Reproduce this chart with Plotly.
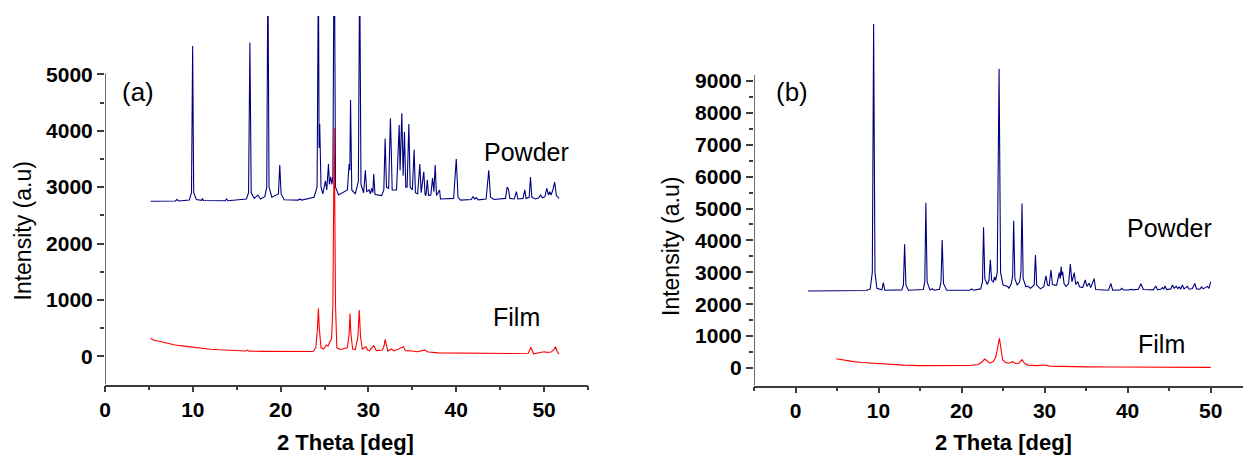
import plotly.graph_objects as go

# ---------------- data ----------------
# panel (a) powder pattern vertices [2theta, intensity]
powder_a = [
    [5.2, 2750], [8.0, 2755], [8.2, 2780], [8.4, 2755],
    [9.6, 2770], [9.85, 2900], [9.98, 5500], [10.1, 2900], [10.4, 2780],
    [11.0, 2765], [11.1, 2800], [11.2, 2762],
    [13.7, 2758], [13.85, 2790], [14.0, 2758],
    [16.1, 2790], [16.35, 2900], [16.5, 5560], [16.65, 2900], [17.0, 2800],
    [17.4, 2860], [17.7, 2790],
    [18.2, 2830], [18.42, 3000], [18.55, 7000], [18.68, 3000], [19.0, 2820],
    [19.75, 2880], [19.9, 3390], [20.05, 2880], [20.4, 2775],
    [22.0, 2770], [22.2, 2790], [22.4, 2770],
    [23.8, 2820], [24.15, 3000], [24.3, 7000], [24.38, 3700], [24.45, 4120],
    [24.6, 3000], [24.8, 2880], [25.1, 3110], [25.25, 2950], [25.45, 3410],
    [25.55, 3050], [25.7, 3180], [25.85, 3050], [25.95, 3200], [26.1, 8000],
    [26.25, 3000], [26.6, 2860],
    [27.6, 2950], [27.8, 3410], [27.88, 3300], [27.96, 4544], [28.1, 2950],
    [28.5, 2880], [28.85, 3100], [29.0, 7000], [29.15, 3050], [29.45, 2900],
    [29.65, 3300], [29.8, 2920], [30.1, 2950], [30.2, 2880], [30.4, 2980],
    [30.5, 2900], [30.6, 3230], [30.75, 2870], [31.5, 2850], [31.75, 2950],
    [31.9, 3860], [32.05, 3000], [32.3, 2980], [32.5, 4220], [32.6, 3650],
    [32.7, 2950], [33.2, 2950], [33.5, 4100], [33.6, 3300], [33.8, 4310],
    [33.95, 3200], [34.1, 3980], [34.25, 3000], [34.4, 3000], [34.6, 4120],
    [34.75, 3000], [35.0, 2950], [35.2, 3660], [35.35, 2900], [35.6, 2880],
    [35.85, 3410], [36.0, 2900], [36.3, 3270], [36.45, 2870], [36.55, 2850],
    [36.7, 3130], [36.85, 2850], [37.1, 2860], [37.3, 3160], [37.45, 2920],
    [37.6, 3390], [37.75, 2850], [38.1, 2950], [38.2, 2790],
    [39.7, 2800], [40.0, 3500], [40.2, 2820], [40.5, 2770],
    [41.7, 2780], [41.9, 2830], [42.1, 2790], [42.3, 2810], [42.5, 2775],
    [43.4, 2790], [43.7, 3300], [43.9, 2820], [44.3, 2780],
    [45.6, 2800], [45.8, 3000], [45.95, 2960], [46.1, 2800], [46.6, 2790],
    [46.85, 2920], [47.0, 2790], [47.6, 2800], [47.8, 2950], [47.95, 2800],
    [48.3, 2820], [48.45, 3180], [48.6, 2820], [49.0, 2790], [49.4, 2810],
    [49.6, 2860], [49.8, 2810], [50.1, 2830], [50.3, 2980], [50.5, 2860],
    [50.65, 2920], [50.8, 2860], [51.0, 2950], [51.2, 3090], [51.4, 2850],
    [51.7, 2800],
]

# panel (a) film pattern vertices
film_a = [
    [5.2, 320], [5.5, 290], [6.0, 270], [7.0, 230], [8.0, 200], [9.0, 180],
    [10.0, 160], [11.0, 140], [12.0, 125], [13.0, 115], [14.6, 100],
    [16.0, 95], [16.2, 110], [16.4, 92], [18.0, 88], [20.0, 85], [22.0, 83],
    [23.7, 85], [24.0, 150], [24.2, 500], [24.3, 850], [24.4, 500],
    [24.6, 150], [24.9, 130], [25.2, 200], [25.4, 180], [25.6, 260],
    [25.8, 300], [25.95, 900], [26.1, 4050], [26.25, 900], [26.4, 150],
    [26.8, 120], [27.6, 150], [27.8, 400], [27.9, 760], [28.0, 400],
    [28.2, 130], [28.5, 120], [28.8, 350], [28.95, 820], [29.1, 350],
    [29.3, 130], [29.7, 170], [29.9, 110], [30.1, 95], [30.6, 190],
    [30.9, 100], [31.6, 110], [31.8, 200], [31.9, 300], [32.05, 160],
    [32.2, 90], [32.6, 130], [32.9, 95], [34.0, 170], [34.2, 100],
    [35.0, 95], [35.5, 80], [36.4, 110], [36.8, 75], [38.0, 60],
    [40.0, 55], [42.0, 55], [44.0, 50], [46.0, 50], [48.2, 55],
    [48.5, 160], [48.8, 45], [49.5, 60], [50.0, 80], [50.3, 70],
    [50.8, 75], [51.1, 120], [51.3, 170], [51.5, 80], [51.7, 40],
]

# panel (b) powder pattern vertices
powder_b = [
    [1.5, 2415], [5.0, 2415], [8.5, 2430], [9.0, 2480], [9.25, 3000],
    [9.41, 10790], [9.57, 3000], [9.8, 2500], [10.4, 2450], [10.58, 2675],
    [10.75, 2440],
    [12.8, 2450], [13.0, 2600], [13.14, 3880], [13.3, 2600], [13.6, 2440],
    [15.4, 2460], [15.57, 2700], [15.7, 5180], [15.85, 2700], [16.2, 2450],
    [16.5, 2480], [16.7, 2440],
    [17.35, 2470], [17.52, 2700], [17.67, 4010], [17.82, 2650], [18.2, 2440],
    [21.0, 2440], [21.2, 2480], [21.4, 2440],
    [22.3, 2480], [22.52, 2700], [22.65, 4410], [22.8, 2800], [23.1, 2620],
    [23.3, 2750], [23.47, 3390], [23.62, 2750], [23.85, 2700], [23.97, 2860],
    [24.1, 2750], [24.3, 3000], [24.52, 9380], [24.7, 3000], [25.0, 2600],
    [25.55, 2560], [25.7, 2500], [26.0, 2650], [26.15, 2900], [26.28, 4620],
    [26.42, 2800], [26.7, 2600], [27.0, 2700], [27.15, 3000], [27.28, 5160],
    [27.42, 2800], [27.75, 2550], [27.96, 2570], [28.3, 2500], [28.75, 2600],
    [28.9, 3540], [29.05, 2600], [29.5, 2480], [29.9, 2550], [30.17, 2890],
    [30.35, 2600], [30.55, 2580], [30.77, 3070], [30.95, 2620], [31.17, 2600],
    [31.45, 2600], [31.77, 2990], [31.88, 2800], [32.0, 3180], [32.08, 2900],
    [32.17, 3020], [32.35, 2640], [32.6, 2560], [32.9, 2650], [33.1, 3260],
    [33.3, 2700], [33.57, 2990], [33.75, 2620], [34.0, 2710], [34.2, 2550],
    [34.6, 2520], [34.9, 2760], [35.1, 2560], [35.37, 2660], [35.55, 2520],
    [35.97, 2800], [36.15, 2460],
    [37.7, 2440], [37.98, 2650], [38.2, 2440],
    [39.1, 2450], [39.3, 2500], [39.5, 2445],
    [40.2, 2450], [40.4, 2470], [40.6, 2450],
    [41.3, 2470], [41.6, 2640], [41.75, 2570], [41.9, 2460],
    [43.1, 2450], [43.4, 2570], [43.6, 2460], [44.0, 2470], [44.2, 2520],
    [44.35, 2470], [44.5, 2570], [44.7, 2460],
    [45.2, 2480], [45.4, 2600], [45.6, 2500], [45.85, 2560], [46.05, 2490],
    [46.2, 2540], [46.4, 2480], [46.6, 2600], [46.8, 2480], [47.2, 2560],
    [47.4, 2470], [47.8, 2490], [48.1, 2650], [48.3, 2480], [48.7, 2470],
    [48.9, 2540], [49.1, 2480], [49.4, 2520], [49.6, 2560], [49.8, 2500],
    [50.0, 2700],
]

# panel (b) film pattern vertices
film_b = [
    [4.9, 290], [5.3, 270], [6.0, 240], [7.0, 200], [8.0, 170], [9.0, 150],
    [10.0, 130], [11.0, 115], [12.0, 100], [13.0, 90], [15.0, 75],
    [17.0, 75], [19.0, 72], [21.0, 80], [22.0, 110], [22.4, 180],
    [22.8, 280], [23.1, 210], [23.4, 150], [23.8, 200], [24.1, 320],
    [24.35, 650], [24.56, 940], [24.75, 600], [24.95, 250], [25.3, 170],
    [25.7, 150], [26.15, 200], [26.5, 140], [26.9, 150], [27.28, 260],
    [27.6, 140], [28.0, 90], [28.97, 75], [29.5, 90], [30.1, 95],
    [30.6, 60], [32.0, 45], [33.0, 50], [35.0, 35], [38.0, 30],
    [42.0, 25], [46.0, 20], [50.0, 20],
]

# tick labels
x_ticks = [0, 10, 20, 30, 40, 50]
x_minor_a = [5, 15, 25, 35, 45, 55]
x_minor_b = [-5, 5, 15, 25, 35, 45]
y_ticks_a = [0, 1000, 2000, 3000, 4000, 5000]
y_minor_a = [500, 1500, 2500, 3500, 4500]
y_ticks_b = [0, 1000, 2000, 3000, 4000, 5000, 6000, 7000, 8000, 9000]
y_minor_b = [500, 1500, 2500, 3500, 4500, 5500, 6500, 7500, 8500]

# ---------------- figure ----------------
W, H = 1243, 458
NAVY = "#00007f"
RED = "#ff0000"
AX = "#3c3c3c"
FAM = "Liberation Sans, Arial"


def px_x(p):
    return p / W


def px_y(p):
    return (H - p) / H


fig = go.Figure()
for pts, color, xa, ya in [
    (powder_a, NAVY, "x", "y"),
    (film_a, RED, "x", "y"),
    (powder_b, NAVY, "x2", "y2"),
    (film_b, RED, "x2", "y2"),
]:
    fig.add_trace(go.Scatter(
        x=[p[0] for p in pts], y=[p[1] for p in pts], mode="lines",
        line=dict(color=color, width=1.1), xaxis=xa, yaxis=ya,
        showlegend=False, hoverinfo="skip",
    ))

tickfont = dict(family=FAM, size=21, color="black")


def xaxis_cfg(domain, rng, minor_vals, anchor):
    return dict(
        domain=domain, range=rng, anchor=anchor, automargin=False,
        showline=True, linecolor=AX, linewidth=1.5,
        ticks="outside", ticklen=6, tickwidth=1.5, tickcolor=AX,
        tickmode="array", tickvals=x_ticks,
        ticktext=["<b>%d</b>" % v for v in x_ticks],
        minor=dict(tickmode="array", tickvals=minor_vals, ticks="outside",
                   ticklen=4, tickwidth=1.5, tickcolor=AX, showgrid=False),
        showgrid=False, zeroline=False, tickfont=tickfont,
    )


def yaxis_cfg(domain, rng, ticks, minor_vals, anchor):
    return dict(
        domain=domain, range=rng, anchor=anchor, automargin=False,
        showline=False,
        ticks="outside", ticklen=7, tickwidth=1.5, tickcolor=AX,
        tickmode="array", tickvals=ticks,
        ticktext=["<b>%d</b>" % v for v in ticks],
        minor=dict(tickmode="array", tickvals=minor_vals, ticks="outside",
                   ticklen=4, tickwidth=1.5, tickcolor=AX, showgrid=False),
        showgrid=False, zeroline=False, tickfont=tickfont,
    )


fig.update_layout(
    width=W, height=H,
    margin=dict(l=0, r=0, t=0, b=0),
    paper_bgcolor="white", plot_bgcolor="white",
    xaxis=xaxis_cfg([px_x(105), px_x(588)], [0, 55], x_minor_a, "y"),
    yaxis=yaxis_cfg([px_y(384.5), px_y(16)], [-500, 6034], y_ticks_a, y_minor_a, "x"),
    xaxis2=xaxis_cfg([px_x(754), 1.0], [-5, 53.9], x_minor_b, "y2"),
    yaxis2=yaxis_cfg([px_y(385.5), px_y(5)], [-549, 11383], y_ticks_b, y_minor_b, "x2"),
)

# y axis lines (they stop below the tallest peaks, as in the reference)
fig.add_shape(type="line", xref="x", yref="y", x0=0, x1=0, y0=-500, y1=5020,
              line=dict(color=AX, width=1.5))
fig.add_shape(type="line", xref="x2", yref="y2", x0=-5, x1=-5, y0=-549, y1=9190,
              line=dict(color=AX, width=1.5))

annos = [
    ("(a)", 138, 92, 26, 0),
    ("Powder", 526, 152, 25, 0),
    ("Film", 516, 317, 25, 0),
    ("(b)", 792, 92, 26, 0),
    ("Powder", 1169.5, 228, 25, 0),
    ("Film", 1161, 344, 25, 0),
    ("Intensity (a.u)", 22.5, 231, 23, -90),
    ("Intensity (a.u)", 671, 246, 23, -90),
    ("<b>2 Theta [deg]</b>", 345, 442, 22, 0),
    ("<b>2 Theta [deg]</b>", 1003, 442, 22, 0),
]
for text, x, y, size, angle in annos:
    fig.add_annotation(
        text=text, xref="paper", yref="paper", x=px_x(x), y=px_y(y),
        xanchor="center", yanchor="middle", showarrow=False, textangle=angle,
        font=dict(family=FAM, size=size, color="black"),
    )

fig.write_html(
    "out.html",
    config={"displayModeBar": False},
    post_script="document.body.style.margin='0';document.body.style.padding='0';",
)
